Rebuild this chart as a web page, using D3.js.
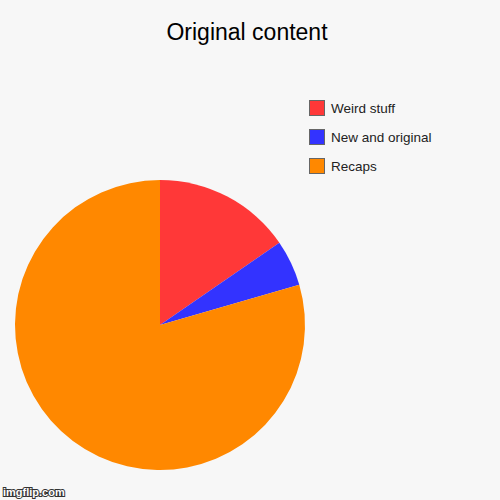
<!DOCTYPE html>
<meta charset="utf-8">
<style>
html, body {
  margin: 0;
  background: #f7f7f7;
}

.chart {
  display: block;
  font-family: Arial, "Liberation Sans", Helvetica, sans-serif;
}

.chart .legend rect {
  stroke: #666;
  stroke-width: 1;
}
</style>
<body>
<svg class="chart js-chart" width="500" height="500"></svg>

<script src="https://cdnjs.cloudflare.com/ajax/libs/d3/7.8.5/d3.min.js"></script>
<script type="text/javascript">
"use strict";

var categories = ["Weird stuff", "New and original", "Recaps"];
var values = [6, 2, 31];
var colors = ["#ff3838", "#3333ff", "#ff8800"];

var svg = d3.select(".js-chart");

svg.append("rect")
  .attr("width", 500)
  .attr("height", 500)
  .attr("fill", "#f7f7f7");

svg.append("text")
  .attr("x", 247)
  .attr("y", 40)
  .attr("text-anchor", "middle")
  .attr("font-size", 23)
  .attr("fill", "#000")
  .text("Original content");

var data = categories.map(function (c, i) {
  return { name: c, value: values[i] };
});

var color = d3.scaleOrdinal().domain(categories).range(colors);

var pie = d3.pie()
  .sort(null)
  .value(function (d) { return d.value; });

var arc = d3.arc()
  .innerRadius(0)
  .outerRadius(145);

var pieGroup = svg.append("g")
  .attr("transform", "translate(160,325)");

pieGroup.selectAll("path").data(pie(data))
  .enter().append("path")
    .attr("d", arc)
    .attr("fill", function (d) { return color(d.data.name); });

var legendY = d3.scalePoint()
  .domain(categories)
  .range([100, 158]);

var legend = svg.append("g").attr("class", "legend")
  .selectAll("g").data(categories)
  .enter().append("g")
    .attr("transform", function (d) { return "translate(309," + legendY(d) + ")"; });

legend.append("rect")
  .attr("x", 0.5)
  .attr("y", 0.5)
  .attr("width", 15)
  .attr("height", 15)
  .attr("fill", color);

legend.append("text")
  .attr("x", 22)
  .attr("y", 13)
  .attr("font-size", 13.5)
  .attr("fill", "#222")
  .text(String);

svg.append("text")
  .attr("x", 3)
  .attr("y", 496)
  .attr("font-size", 11)
  .attr("font-weight", "bold")
  .attr("fill", "#fff")
  .attr("stroke", "#333")
  .attr("stroke-width", 2)
  .attr("paint-order", "stroke")
  .text("imgflip.com");
</script>
</body>
